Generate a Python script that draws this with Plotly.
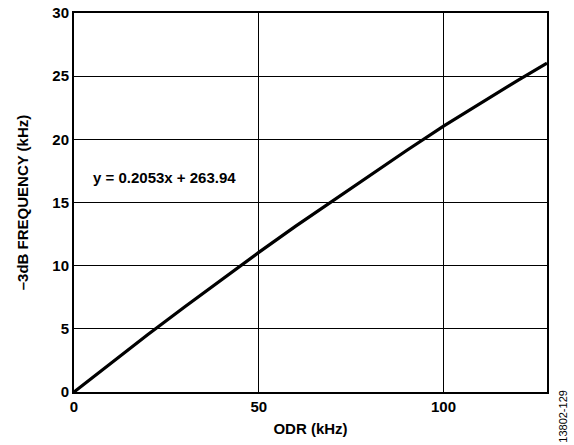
import plotly.graph_objects as go

odr_khz = [0, 10, 20, 30, 40, 50, 60, 70, 80, 90, 100, 110, 120, 128]
freq_khz = [0, 2.3, 4.55, 6.75, 8.93, 11.05, 13.13, 15.15, 17.15, 19.12, 21.05, 22.88, 24.65, 26.03]

x_ticks = [0, 50, 100]
y_ticks = [0, 5, 10, 15, 20, 25, 30]

FONT = "Liberation Sans, Arial, sans-serif"

fig = go.Figure()
fig.add_trace(go.Scatter(x=odr_khz, y=freq_khz, mode="lines",
                         line=dict(color="black", width=3.2),
                         showlegend=False, hoverinfo="skip"))

fig.add_annotation(x=4.5, y=16.95, xref="x", yref="y", text="<b>y = 0.2053x + 263.94</b>",
                   showarrow=False, xanchor="left", yanchor="middle",
                   font=dict(family=FONT, size=15, color="black"))
fig.add_annotation(x=1.034, y=-0.065, xref="paper", yref="paper", text="13802-129",
                   showarrow=False, textangle=-90, xanchor="center", yanchor="middle",
                   font=dict(family=FONT, size=11, color="black"))

axis_common = dict(showgrid=True, gridcolor="black", gridwidth=1,
                   showline=True, linecolor="black", linewidth=2, mirror=True,
                   ticks="", zeroline=False, automargin=False,
                   tickfont=dict(family=FONT, size=15, color="black"))

fig.update_xaxes(range=[0, 128], tickvals=x_ticks, ticktext=[f"<b>{v}</b>" for v in x_ticks],
                 title=dict(text="<b>ODR (kHz)</b>", font=dict(family=FONT, size=15, color="black"), standoff=9),
                 **axis_common)
fig.update_yaxes(range=[0, 30], tickvals=y_ticks, ticktext=[f"<b>{v}</b>" for v in y_ticks],
                 title=dict(text="<b>–3dB FREQUENCY (kHz)</b>", font=dict(family=FONT, size=15, color="black"), standoff=20),
                 **axis_common)

fig.update_layout(width=574, height=445, margin=dict(l=74, r=27, t=13, b=53, autoexpand=False),
                  plot_bgcolor="white", paper_bgcolor="white",
                  font=dict(family=FONT, color="black"))

fig.write_html("out.html", config={"displayModeBar": False},
               post_script="document.body.style.margin='0';")
